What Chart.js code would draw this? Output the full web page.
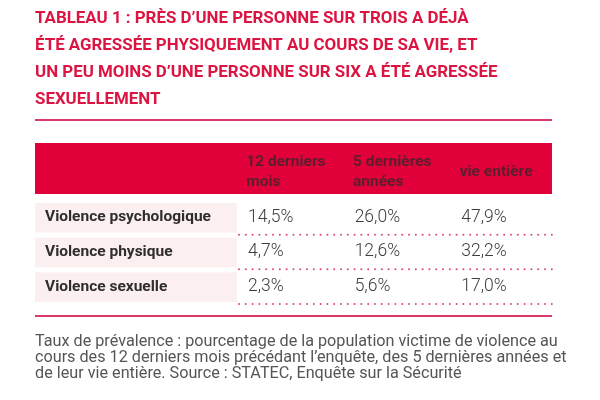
<!DOCTYPE html>
<html>
<head>
<meta charset="utf-8">
<script src="https://cdn.jsdelivr.net/npm/chart.js@4/dist/chart.umd.min.js"></script>
<style>
  body { margin: 0; background: #fff; }
  canvas { display: block; }
</style>
</head>
<body>
<canvas id="tableau" width="600" height="400"></canvas>
<script>
// Données du tableau
const titleLines = [
    "TABLEAU 1 : PRÈS D’UNE PERSONNE SUR TROIS A DÉJÀ",
    "ÉTÉ AGRESSÉE PHYSIQUEMENT AU COURS DE SA VIE, ET",
    "UN PEU MOINS D’UNE PERSONNE SUR SIX A ÉTÉ AGRESSÉE",
    "SEXUELLEMENT"
];
const noteLines = [
    "Taux de prévalence : pourcentage de la population victime de violence au",
    "cours des 12 derniers mois précédant l’enquête, des 5 dernières années et",
    "de leur vie entière. Source : STATEC, Enquête sur la Sécurité"
];
const periods = [["12 derniers", "mois"], ["5 dernières", "années"], "vie entière"];
const violenceTypes = ["Violence psychologique", "Violence physique", "Violence sexuelle"];
const last12Months = [14.5, 4.7, 2.3];
const last5Years = [26.0, 12.6, 5.6];
const lifetime = [47.9, 32.2, 17.0];

const RED = "#e2003b";
const RULE = "#dc3a68";
const FONT = "Roboto, 'Liberation Sans', sans-serif";
const EDGE = 5; // le tableau s'arrête un peu avant le bord de la zone

function formatPct(v) {
    return v.toFixed(1).replace(".", ",") + "%";
}

// une série par colonne, un point par ligne
const columns = [last12Months, last5Years, lifetime];
const datasets = columns.map((values, col) => ({
    label: Array.isArray(periods[col]) ? periods[col].join(" ") : periods[col],
    data: values.map((v, row) => ({ x: col, y: row, v: v })),
    pointRadius: 0,
    pointHoverRadius: 0
}));

// fond, bandeau rouge, lignes pointillées et textes des cellules
const tablePlugin = {
    id: "tablePlugin",
    beforeDraw(chart) {
        const { ctx, chartArea } = chart;
        const x = chart.scales.x;
        const y = chart.scales.y;
        const right = chartArea.right - EDGE;
        ctx.save();
        ctx.fillStyle = "#fff";
        ctx.fillRect(0, 0, chart.width, chart.height);

        // bandeau d'en-tête
        ctx.fillStyle = RED;
        ctx.fillRect(y.left, x.top, right - y.left, x.bottom - x.top - 6);

        // filets sous le titre et au-dessus de la note
        ctx.strokeStyle = RULE;
        ctx.lineWidth = 2;
        const topRule = chart.titleBlock.bottom - 23;
        const bottomRule = chart.scales.y.bottom + 12;
        [topRule, bottomRule].forEach(py => {
            ctx.beginPath();
            ctx.moveTo(y.left, py);
            ctx.lineTo(right, py);
            ctx.stroke();
        });

        violenceTypes.forEach((name, row) => {
            const top = y.getPixelForValue(row - 0.5);
            const bottom = y.getPixelForValue(row + 0.5);
            // fond rose des libellés
            ctx.fillStyle = "#fcefef";
            ctx.fillRect(y.left, top + 3, chartArea.left - y.left, bottom - top - 5);
            // pointillés
            ctx.strokeStyle = "#e0466f";
            ctx.lineWidth = 2;
            ctx.lineCap = "round";
            ctx.setLineDash([0, 6.8]);
            ctx.beginPath();
            ctx.moveTo(chartArea.left + 2, bottom);
            ctx.lineTo(right, bottom);
            ctx.stroke();
            ctx.setLineDash([]);
        });
        ctx.restore();
    },
    afterDatasetsDraw(chart) {
        const { ctx } = chart;
        const x = chart.scales.x;
        const y = chart.scales.y;
        ctx.save();
        ctx.textBaseline = "middle";
        ctx.textAlign = "left";

        ctx.font = "bold 15.5px " + FONT;
        ctx.fillStyle = "#2e2e2e";
        violenceTypes.forEach((name, row) => {
            ctx.fillText(name, y.left + 10, y.getPixelForValue(row));
        });

        ctx.font = "300 17.5px " + FONT;
        ctx.fillStyle = "#3d3d3d";
        chart.data.datasets.forEach((ds, col) => {
            const meta = chart.getDatasetMeta(col);
            const left = x.getPixelForValue(col - 0.5);
            meta.data.forEach((pt, row) => {
                ctx.fillText(formatPct(ds.data[row].v), left + 11, pt.y);
            });
        });
        ctx.restore();
    }
};

new Chart(document.getElementById("tableau"), {
    type: "scatter",
    data: { datasets: datasets },
    options: {
        responsive: false,
        animation: false,
        events: [],
        layout: { padding: { left: 35, right: 33, top: 0, bottom: 18 } },
        scales: {
            x: {
                type: "category",
                labels: periods,
                position: "top",
                offset: true,
                grid: { display: false, drawTicks: false },
                border: { display: false },
                ticks: {
                    align: "start",
                    crossAlign: "center",
                    labelOffset: -44,
                    padding: 18,
                    maxRotation: 0,
                    minRotation: 0,
                    autoSkip: false,
                    color: "#5b1f2c",
                    font: { family: FONT, weight: "bold", size: 15.5, lineHeight: 20 / 15.5 }
                },
                afterFit(scale) { scale.height = 57; }
            },
            y: {
                type: "category",
                labels: violenceTypes,
                offset: true,
                grid: { display: false, drawTicks: false },
                border: { display: false },
                ticks: { display: false },
                afterFit(scale) { scale.width = 202; }
            }
        },
        plugins: {
            legend: { display: false },
            tooltip: { enabled: false },
            title: {
                display: true,
                text: titleLines,
                align: "start",
                color: "#dc1442",
                font: { family: FONT, weight: "bold", size: 16.9, lineHeight: 27 / 16.9 },
                padding: { top: 5.5, bottom: 29.5 }
            },
            subtitle: {
                display: true,
                position: "bottom",
                text: noteLines,
                align: "start",
                color: "#555",
                font: { family: FONT, size: 16.2, lineHeight: 16 / 16.2 },
                padding: { top: 30, bottom: 0 }
            }
        }
    },
    plugins: [tablePlugin]
});
</script>
</body>
</html>
